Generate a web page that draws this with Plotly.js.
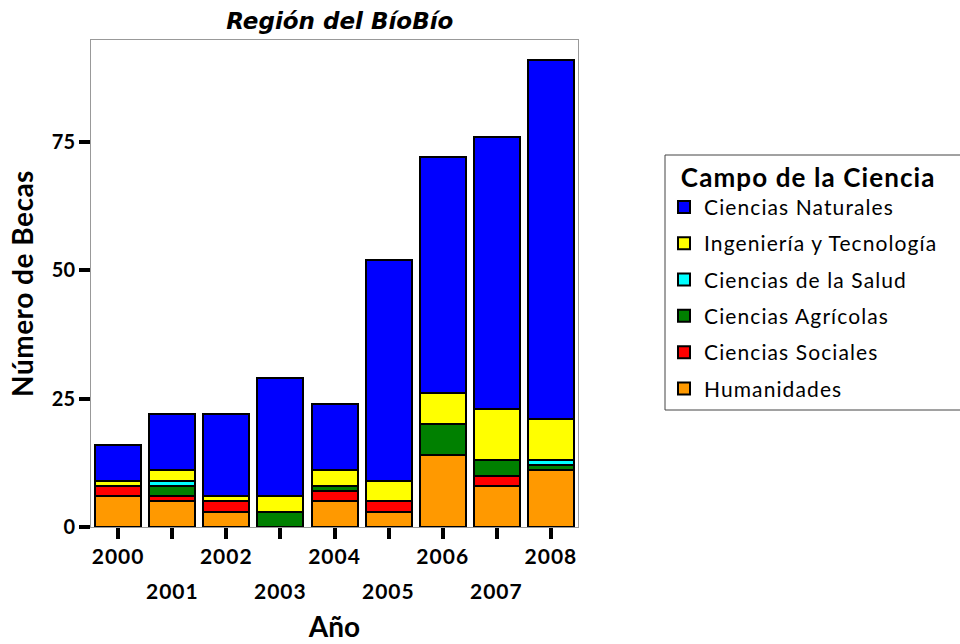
<!DOCTYPE html>
<html>
<head>
<meta charset="utf-8">
<script src="https://cdn.plot.ly/plotly-3.0.1.min.js"></script>
<style>
body{margin:0;padding:0;background:#fff;}
#chart{width:960px;height:644px;}
.xtick text, .annotation-text { letter-spacing: 1px; }
.legendtext { letter-spacing: 1.1px; }
.legendtitletext { letter-spacing: 1.1px; }
.ytitle { letter-spacing: 0.5px; }
</style>
</head>
<body>
<div id="chart"></div>
<script>
// Data
const years = ["2000","2001","2002","2003","2004","2005","2006","2007","2008"];
const humanidades     = [6, 5, 3, 0, 5, 3, 14, 8, 11];
const sociales        = [2, 1, 2, 0, 2, 2, 0, 2, 0];
const agricolas       = [0, 2, 0, 3, 1, 0, 6, 3, 1];
const salud           = [0, 1, 0, 0, 0, 0, 0, 0, 1];
const ingenieria      = [1, 2, 1, 3, 3, 4, 6, 10, 8];
const naturales       = [7, 11, 16, 23, 13, 43, 46, 53, 70];
const seriesNames = ["Humanidades","Ciencias Sociales","Ciencias Agrícolas","Ciencias de la Salud","Ingeniería y Tecnología","Ciencias Naturales"];
const seriesColors = ["#FF9900","#FF0000","#008000","#00FFFF","#FFFF00","#0000FF"];
const seriesValues = [humanidades, sociales, agricolas, salud, ingenieria, naturales];
const yTicks = [0, 25, 50, 75];

const FONT = "Lato, 'Open Sans', sans-serif";

const traces = seriesValues.map((vals, i) => ({
  type: "bar",
  name: seriesNames[i],
  legendgroup: "g" + i,
  legendrank: 1000 + (seriesValues.length - i),
  x: years,
  y: vals,
  marker: {color: seriesColors[i], line: {color: "#000", width: 2}},
  hoverinfo: "x+y+name"
}));

// second row of x tick labels (odd years), placed through the category axis
const oddAnnotations = years.map((yr, i) => i % 2 === 1 ? {
  xref: "x", yref: "paper", x: i, y: 0, yanchor: "middle", yshift: -63,
  text: "<b>" + yr + "</b>", showarrow: false,
  font: {family: FONT, size: 21, color: "#000"}
} : null).filter(a => a);

const layout = {
  width: 960, height: 644,
  margin: {l: 91, r: 382, t: 40, b: 117},
  paper_bgcolor: "#fff", plot_bgcolor: "#fff",
  barmode: "stack",
  bargap: 0.15,
  title: {
    text: "<b><i>Región del BíoBío</i></b>",
    font: {family: "'DejaVu Sans', sans-serif", size: 23, color: "#000"},
    xref: "container", yref: "container",
    x: 0.354, xanchor: "center", y: 0.967, yanchor: "middle"
  },
  xaxis: {
    type: "category",
    range: [-0.5, 8.5],
    tickvals: years,
    ticktext: years.map((y, i) => i % 2 === 0 ? "<b>" + y + "</b>" : ""),
    tickfont: {family: FONT, size: 21, color: "#000"},
    ticks: "outside", ticklen: 11, tickwidth: 4, tickcolor: "#000",
    showline: true, linecolor: "#999", linewidth: 1, mirror: true,
    showgrid: false, zeroline: false,
    title: {text: "<b>Año</b>", font: {family: FONT, size: 28, color: "#000"}, standoff: 50}
  },
  yaxis: {
    range: [0, 94.8],
    tickvals: yTicks,
    ticktext: yTicks.map(v => "<b>" + v + "</b>"),
    tickfont: {family: FONT, size: 20, color: "#000"},
    ticks: "outside", ticklen: 11, tickwidth: 4, tickcolor: "#000",
    showline: true, linecolor: "#999", linewidth: 1, mirror: true,
    showgrid: false, zeroline: false,
    title: {text: "<b>Número de Becas</b>", font: {family: FONT, size: 28, color: "#000"}, standoff: 9}
  },
  legend: {
    x: (664 - 91) / 487, xanchor: "left", y: (527 - 153) / 487, yanchor: "top",
    traceorder: "grouped",
    tracegroupgap: 6,
    bgcolor: "rgba(0,0,0,0)", borderwidth: 0,
    font: {family: FONT, size: 21, color: "#000"},
    title: {text: "<b>\u00a0\u00a0Campo de la Ciencia</b>", font: {family: FONT, size: 26, color: "#000"}},
    itemclick: false, itemdoubleclick: false
  },
  shapes: [{
    type: "rect", xref: "paper", yref: "paper",
    x0: (665 - 91) / 487, x1: (965 - 91) / 487,
    y0: (527 - 410) / 487, y1: (527 - 155) / 487,
    line: {color: "#444", width: 1}, fillcolor: "rgba(0,0,0,0)", layer: "below"
  }],
  annotations: oddAnnotations,
  showlegend: true
};

Plotly.newPlot("chart", traces, layout, {displayModeBar: false, staticPlot: true});
</script>
</body>
</html>
